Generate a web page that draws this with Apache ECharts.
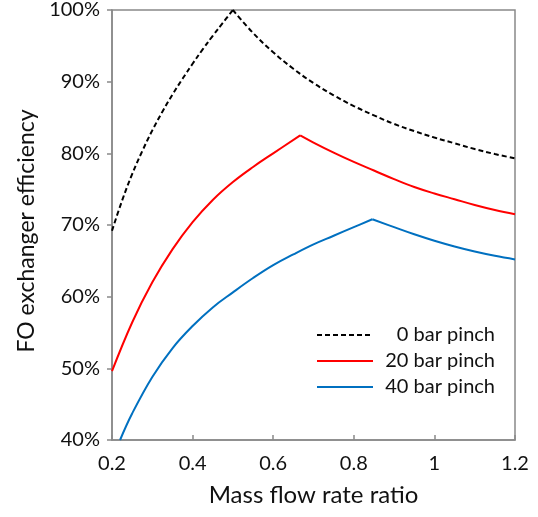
<!DOCTYPE html>
<html>
<head>
<meta charset="utf-8">
<script src="https://cdn.jsdelivr.net/npm/echarts@6/dist/echarts.min.js"></script>
<style>html,body{margin:0;padding:0;background:#fff;}#c{width:538px;height:517px;}</style>
</head>
<body>
<div id="c"></div>
<script>
var seriesNames = ['0 bar pinch', '20 bar pinch', '40 bar pinch'];
var xTicks = [0.2, 0.4, 0.6, 0.8, 1, 1.2];
var yTicks = [40, 50, 60, 70, 80, 90, 100];

var blackX = [0.2,0.225,0.25,0.275,0.3,0.325,0.35,0.375,0.4,0.425,0.45,0.475,0.5,0.55,0.6,0.65,0.7,0.75,0.8,0.85,0.9,0.95,1.0,1.05,1.1,1.15,1.2];
var blackY = [69.2,73.4,77.1,80.3,83.2,85.8,88.2,90.4,92.5,94.5,96.4,98.2,100,96.8,94.1,91.8,89.8,88.1,86.6,85.3,84.1,83.1,82.2,81.4,80.6,79.9,79.3];

var redX = [0.2,0.25,0.3,0.35,0.4,0.45,0.5,0.55,0.6,0.667,0.7,0.75,0.8,0.85,0.9,0.95,1.0,1.05,1.1,1.15,1.2];
var redY = [49.6,56.4,62.0,66.6,70.4,73.5,76.0,78.1,80.0,82.5,81.5,80.1,78.8,77.6,76.4,75.3,74.4,73.6,72.8,72.1,71.5];

var blueX = [0.22,0.25,0.3,0.35,0.4,0.45,0.5,0.55,0.6,0.65,0.7,0.75,0.8,0.846,0.9,0.95,1.0,1.05,1.1,1.15,1.2];
var blueY = [40.0,43.7,48.8,52.8,55.9,58.5,60.6,62.6,64.4,65.9,67.3,68.5,69.7,70.8,69.7,68.7,67.8,67.0,66.3,65.7,65.2];

var FONT = 'Lato';
var TXT = '#111';

function branches(name, xs, ys, lineStyle) {
  var peak = 0;
  for (var i = 1; i < ys.length; i++) if (ys[i] > ys[peak]) peak = i;
  var pts = xs.map(function (x, i) { return [x, ys[i]]; });
  var mk = function (data) {
    return {
      name: name, type: 'line', data: data, symbol: 'none', showSymbol: false, smooth: 0.4,
      lineStyle: lineStyle, itemStyle: { color: lineStyle.color },
      clip: true, animation: false
    };
  };
  return [mk(pts.slice(0, peak + 1)), mk(pts.slice(peak))];
}

var series = [].concat(
  branches(seriesNames[0], blackX, blackY, { color: '#000000', width: 2, type: [5, 3] }),
  branches(seriesNames[1], redX, redY, { color: '#ff0000', width: 2, type: 'solid' }),
  branches(seriesNames[2], blueX, blueY, { color: '#0070c0', width: 2, type: 'solid' })
);

var chart = echarts.init(document.getElementById('c'), null, { renderer: 'canvas' });
chart.setOption({
  animation: false,
  backgroundColor: '#ffffff',
  grid: { left: 112, right: 23, top: 10, bottom: 77, show: true, borderColor: '#898989', borderWidth: 1.5, backgroundColor: 'transparent' },
  legend: {
    data: seriesNames, orient: 'vertical', left: 311, top: 320,
    itemWidth: 56, itemHeight: 14, itemGap: 6,
    itemStyle: { opacity: 0 },
    formatter: function (n) { return '{a|' + n + '}'; },
    textStyle: { fontFamily: FONT, fontSize: 20, color: TXT,
      rich: { a: { width: 117, lineHeight: 22, align: 'right', fontFamily: FONT, fontSize: 20, color: TXT } } }
  },
  xAxis: {
    type: 'value', min: xTicks[0], max: xTicks[xTicks.length - 1], interval: 0.2,
    name: 'Mass flow rate ratio', nameLocation: 'middle', nameGap: 43,
    nameTextStyle: { fontFamily: FONT, fontSize: 24, color: TXT },
    axisLine: { show: true, lineStyle: { color: '#898989', width: 1.5 } },
    axisTick: { show: true, inside: true, length: 5, lineStyle: { color: '#898989', width: 1.5 } },
    axisLabel: { fontFamily: FONT, fontSize: 20, color: TXT, margin: 14 },
    splitLine: { show: false }
  },
  yAxis: {
    type: 'value', min: yTicks[0], max: yTicks[yTicks.length - 1], interval: 10,
    name: 'FO exchanger efficiency', nameLocation: 'middle', nameGap: 70,
    nameTextStyle: { fontFamily: FONT, fontSize: 23, color: TXT, padding: [0, 12, 0, 0] },
    axisLine: { show: true, lineStyle: { color: '#898989', width: 1.5 } },
    axisTick: { show: true, inside: false, length: 5, lineStyle: { color: '#898989', width: 1.5 } },
    axisLabel: { fontFamily: FONT, fontSize: 20, color: TXT, margin: 12, formatter: '{value}%' },
    splitLine: { show: false }
  },
  series: series
});
</script>
</body>
</html>
